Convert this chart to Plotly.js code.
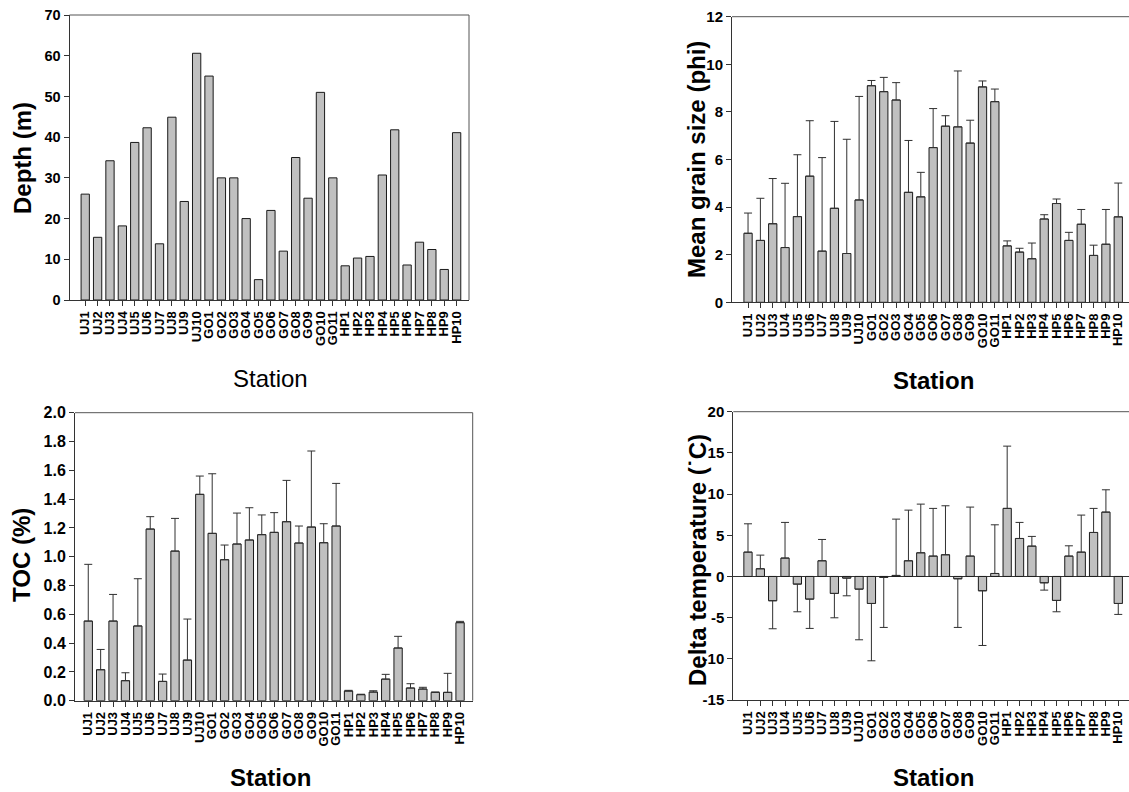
<!DOCTYPE html>
<html><head><meta charset="utf-8">
<script src="https://cdn.plot.ly/plotly-3.0.1.min.js"></script>
<style>html,body{margin:0;padding:0;background:#fff}</style>
</head><body><div id="chart" style="width:1129px;height:792px"></div>
<script>
const stations = ["UJ1","UJ2","UJ3","UJ4","UJ5","UJ6","UJ7","UJ8","UJ9","UJ10",
  "GO1","GO2","GO3","GO4","GO5","GO6","GO7","GO8","GO9","GO10","GO11",
  "HP1","HP2","HP3","HP4","HP5","HP6","HP7","HP8","HP9","HP10"];

const depth = [26,15.4,34.2,18.2,38.7,42.3,13.8,44.9,24.2,60.6,
  55,30,30,20,5,22,12,35,25,51,30,
  8.4,10.3,10.7,30.7,41.8,8.6,14.2,12.4,7.5,41.1];

const grainMean = [2.9,2.6,3.3,2.3,3.6,5.3,2.15,3.95,2.05,4.3,
  9.1,8.85,8.5,4.62,4.43,6.5,7.4,7.37,6.69,9.05,8.43,
  2.37,2.11,1.83,3.5,4.15,2.6,3.28,1.97,2.44,3.59];
const grainSD = [0.85,1.77,1.9,2.7,2.6,2.33,3.93,3.65,4.8,4.35,
  0.22,0.6,0.73,2.18,1.03,1.64,0.44,2.35,0.96,0.25,0.53,
  0.21,0.16,0.66,0.18,0.19,0.34,0.62,0.43,1.46,1.42];

const tocMean = [0.553,0.215,0.553,0.139,0.519,1.192,0.134,1.039,0.282,1.433,
  1.162,0.979,1.088,1.116,1.153,1.169,1.243,1.095,1.206,1.097,1.213,
  0.067,0.042,0.06,0.15,0.366,0.088,0.081,0.058,0.058,0.542];
const tocSD = [0.394,0.141,0.185,0.055,0.328,0.086,0.051,0.227,0.285,0.127,
  0.414,0.102,0.215,0.224,0.137,0.137,0.287,0.118,0.528,0.132,0.296,
  0.005,0.003,0.009,0.033,0.081,0.03,0.012,0.002,0.132,0.009];

const dtMean = [2.95,0.93,-2.95,2.23,-0.93,-2.75,1.9,-2.06,-0.2,-1.54,
  -3.28,-0.12,0.12,1.9,2.87,2.47,2.63,-0.28,2.47,-1.74,0.36,
  8.26,4.61,3.68,-0.77,-2.91,2.47,2.95,5.34,7.81,-3.28];
const dtSD = [3.44,1.66,3.4,4.33,3.36,3.56,2.59,2.96,2.15,6.15,
  6.96,6.07,6.84,6.15,5.91,5.79,5.95,5.91,5.95,6.64,5.91,
  7.56,1.95,1.18,0.89,1.38,1.25,4.5,2.92,2.71,1.33];

const dtTickVals = [-15,-10,-5,0,5,10,15,20];
const dtTickText = ["-15","-10","-5","0","5","10","15","20"];

const W = 1129, H = 792;
const FONT = "Arial, 'Liberation Sans', sans-serif";
const px = v => v / W;
const py = v => 1 - v / H;

function errs(mean, sd) {
  return {
    type: 'data', symmetric: false,
    array: mean.map((m, i) => m >= 0 ? sd[i] : 0),
    arrayminus: mean.map((m, i) => m < 0 ? sd[i] : 0),
    color: '#303030', thickness: 1, width: 4
  };
}
const barStyle = {color: '#c0c0c0', line: {color: '#1a1a1a', width: 1}};

const traces = [
  {type: 'bar', x: stations, y: depth, marker: barStyle, xaxis: 'x', yaxis: 'y'},
  {type: 'bar', x: stations, y: grainMean, marker: barStyle, error_y: errs(grainMean, grainSD), xaxis: 'x2', yaxis: 'y2'},
  {type: 'bar', x: stations, y: tocMean, marker: barStyle, error_y: errs(tocMean, tocSD), xaxis: 'x3', yaxis: 'y3'},
  {type: 'bar', x: stations, y: dtMean, marker: barStyle, error_y: errs(dtMean, dtSD), xaxis: 'x4', yaxis: 'y4'}
];

function xa(domain, range, anchor) {
  return {
    domain: domain, range: range, anchor: anchor, type: 'category',
    tickmode: 'linear', tick0: 0, dtick: 1, tickangle: -90,
    ticks: 'outside', ticklen: 5, tickwidth: 1, tickcolor: '#333',
    showline: true, linecolor: '#333', linewidth: 1, showgrid: false, zeroline: false,
    tickfont: {family: FONT, size: 13, color: '#000', weight: 700}
  };
}
function ya(domain, range, anchor, dtick, fmt, fs, zl) {
  return {
    domain: domain, range: range, anchor: anchor,
    tickmode: 'linear', tick0: 0, dtick: dtick, tickformat: fmt,
    ticks: 'outside', ticklen: 5, tickwidth: 1, tickcolor: '#333',
    showline: true, linecolor: '#333', linewidth: 1, showgrid: false,
    zeroline: !!zl, zerolinecolor: '#333', zerolinewidth: 1,
    tickfont: {family: FONT, size: fs, color: '#000', weight: 700}
  };
}

const frame = [];
function topLine(xr, yr) {
  frame.push({type: 'line', xref: xr + ' domain', yref: yr + ' domain', x0: 0, x1: 1, y0: 1, y1: 1, line: {color: '#555', width: 1}});
}
function rightLine(xr, yr) {
  frame.push({type: 'line', xref: xr + ' domain', yref: yr + ' domain', x0: 1, x1: 1, y0: 0, y1: 1, line: {color: '#555', width: 1}});
}
topLine('x', 'y'); rightLine('x', 'y');
topLine('x2', 'y2');
topLine('x3', 'y3'); rightLine('x3', 'y3');
topLine('x4', 'y4');

function title(text, x, y, angle, bold) {
  return {text: text, xref: 'paper', yref: 'paper', x: px(x), y: py(y), xanchor: 'center', yanchor: 'middle',
    showarrow: false, textangle: angle, font: {family: FONT, size: 24, color: '#000', weight: bold ? 700 : 400}};
}

const y4 = ya([py(700), py(411.7)], [-15, 20], 'x4', 5, 'd', 15, true);
y4.tickmode = 'array'; y4.tickvals = dtTickVals; y4.ticktext = dtTickText;

const layout = {
  width: W, height: H, margin: {l: 0, r: 0, t: 0, b: 0},
  paper_bgcolor: '#fff', plot_bgcolor: 'rgba(0,0,0,0)',
  showlegend: false, bargap: 0.33,
  xaxis: xa([px(69.5), px(469)], [-1.27, 31], 'y'),
  yaxis: ya([py(300), py(15)], [0, 70], 'x', 10, 'd', 14.5),
  xaxis2: xa([px(732), 1], [-1.3, 30.87], 'y2'),
  yaxis2: ya([py(302.3), py(16.7)], [0, 12], 'x2', 2, 'd', 15),
  xaxis3: xa([px(75), px(472.7)], [-1.07, 31.02], 'y3'),
  yaxis3: ya([py(700.7), py(412.7)], [0, 2], 'x3', 0.2, '.1f', 16),
  xaxis4: xa([px(733.3), 1], [-1.19, 30.87], 'y4'),
  yaxis4: y4,
  shapes: frame,
  annotations: [
    title('Depth (m)', 22, 158, -90, true),
    title('Station', 270, 378, 0, false),
    title('Mean grain size (phi)', 697, 160, -90, true),
    title('Station', 933, 380, 0, true),
    title('TOC (%)', 21, 555, -90, true),
    title('Station', 270, 777, 0, true),
    title('Delta temperature (˙C)', 697, 560, -90, true),
    title('Station', 933, 777, 0, true)
  ]
};

Plotly.newPlot('chart', traces, layout, {displayModeBar: false, staticPlot: true});
</script>
</body></html>
